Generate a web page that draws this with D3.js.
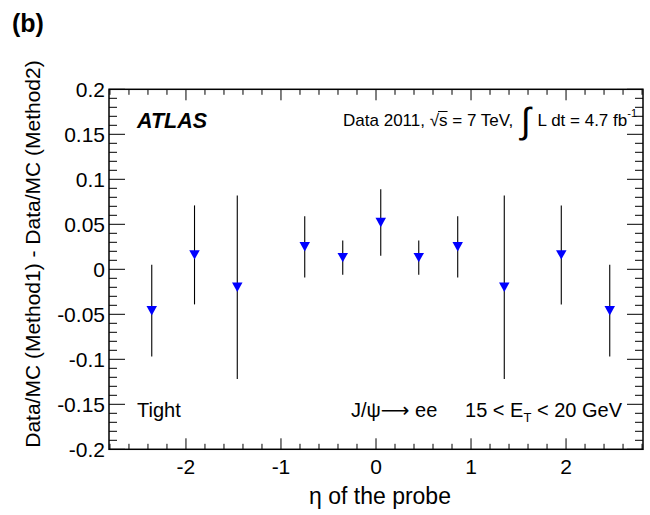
<!DOCTYPE html>
<html>
<head>
<meta charset="utf-8">
<script src="https://cdn.jsdelivr.net/npm/d3@7"></script>
<style>
  body { margin: 0; background: #fff; }
  text { font-family: "Liberation Sans", Arial, Helvetica, sans-serif; fill: #000; white-space: pre; }
</style>
</head>
<body>
<div id="graf"></div>
<script>
// valores
const eta = [-2.36, -1.91, -1.46, -0.75, -0.35, 0.05, 0.45, 0.86, 1.35, 1.95, 2.46]
const diferencia = [-0.046, 0.016, -0.020, 0.025, 0.013, 0.052, 0.013, 0.025, -0.020, 0.016, -0.046]
const error = [0.051, 0.055, 0.102, 0.034, 0.019, 0.037, 0.019, 0.034, 0.102, 0.055, 0.051]
const xTicks = [-2, -1, 0, 1, 2]
const yTicks = [-0.2, -0.15, -0.1, -0.05, 0, 0.05, 0.1, 0.15, 0.2]

const anchoTotal = 650
const altoTotal = 515
const margins = { top: 89.3, right: 7, bottom: 65.7, left: 109 }

const svg = d3.select("#graf").append("svg")
    .attr("width", anchoTotal).attr("height", altoTotal)

const x = d3.scaleLinear().domain([-2.81, 2.81]).range([margins.left, anchoTotal - margins.right])
const y = d3.scaleLinear().domain([-0.2, 0.2]).range([altoTotal - margins.bottom, margins.top])

const x0 = x.range()[0], x1 = x.range()[1]
const y0 = y.range()[0], y1 = y.range()[1]

// ticks hacia adentro, estilo ROOT
const xMenores = d3.range(-2.8, 2.81, 0.2).map(d => +d.toFixed(1)).filter(d => !xTicks.includes(d))
const yMenores = d3.range(-0.2, 0.2001, 0.01).map(d => +d.toFixed(2)).filter(d => !yTicks.includes(d))

const ticks = svg.append("g").attr("stroke", "#000").attr("stroke-width", 1)
const tickX = (lista, largo) => {
    lista.forEach(d => {
        ticks.append("line").attr("x1", x(d)).attr("x2", x(d)).attr("y1", y0).attr("y2", y0 - largo)
        ticks.append("line").attr("x1", x(d)).attr("x2", x(d)).attr("y1", y1).attr("y2", y1 + largo)
    })
}
const tickY = (lista, largo) => {
    lista.forEach(d => {
        ticks.append("line").attr("y1", y(d)).attr("y2", y(d)).attr("x1", x0).attr("x2", x0 + largo)
        ticks.append("line").attr("y1", y(d)).attr("y2", y(d)).attr("x1", x1).attr("x2", x1 - largo)
    })
}
tickX(xTicks, 11)
tickX(xMenores, 5.5)
tickY(yTicks, 16)
tickY(yMenores, 8)

svg.append("rect")
    .attr("x", x0).attr("y", y1).attr("width", x1 - x0).attr("height", y0 - y1)
    .attr("fill", "none").attr("stroke", "#000").attr("stroke-width", 1.5)

// etiquetas de ejes
svg.append("g").selectAll("text").data(xTicks).join("text")
    .attr("x", d => x(d)).attr("y", y0 + 25)
    .attr("text-anchor", "middle").attr("font-size", 21)
    .text(d => d)

svg.append("g").selectAll("text").data(yTicks).join("text")
    .attr("x", x0 - 4).attr("y", d => y(d) + 7.5)
    .attr("text-anchor", "end").attr("font-size", 21)
    .text(d => d)

svg.append("text")
    .attr("x", (x0 + x1) / 2 + 4).attr("y", 504)
    .attr("text-anchor", "middle").attr("font-size", 23)
    .text("η of the probe")

svg.append("text")
    .attr("transform", `translate(40, 254) rotate(-90)`)
    .attr("text-anchor", "middle").attr("font-size", 21)
    .text("Data/MC (Method1) - Data/MC (Method2)")

svg.append("text").attr("x", 12).attr("y", 32)
    .attr("font-size", 25).attr("font-weight", "bold").text("(b)")

svg.append("text").attr("x", 137).attr("y", 128)
    .attr("font-size", 21.5).attr("font-weight", "bold").attr("font-style", "italic").text("ATLAS")

// texto de la luminosidad, armado por partes y alineado a la derecha
const lumi = svg.append("g").attr("font-size", 17)
let cx = 0
const trozo = (t, dx, dy, size) => {
    const el = lumi.append("text").attr("x", cx + (dx || 0)).attr("y", 126 + (dy || 0)).text(t)
    if (size) el.attr("font-size", size)
    const w = el.node().getComputedTextLength()
    cx += w + (dx || 0)
    return { el, w }
}
trozo("Data 2011, ")
trozo("√")
const sx = cx
const s = trozo("s")
lumi.append("line").attr("x1", sx - 1).attr("x2", sx + s.w).attr("y1", 111.5).attr("y2", 111.5)
    .attr("stroke", "#000").attr("stroke-width", 1)
trozo(" = 7 TeV, ")
trozo("∫", 3, 7, 36)
trozo(" L dt = 4.7 fb", 2)
trozo("-1", 0, -9, 11)
lumi.attr("transform", `translate(${637 - cx}, 0)`)

svg.append("text").attr("x", 137).attr("y", 417).attr("font-size", 20).text("Tight")

const canal = svg.append("text").attr("x", 622).attr("y", 417)
    .attr("font-size", 20).attr("text-anchor", "end")
canal.append("tspan").text("J/ψ")
canal.append("tspan").attr("font-family", "DejaVu Sans").attr("font-size", 20).text("⟶")
canal.append("tspan").text(" ee     15 < E")
canal.append("tspan").attr("font-size", 13).attr("dy", 5).text("T")
canal.append("tspan").attr("dy", -5).text(" < 20 GeV")

// barras de error y marcadores
const puntos = eta.map((e, i) => ({ eta: e, v: diferencia[i], err: error[i] }))

svg.append("g").selectAll("line").data(puntos).join("line")
    .attr("x1", d => x(d.eta)).attr("x2", d => x(d.eta))
    .attr("y1", d => y(d.v + d.err)).attr("y2", d => y(d.v - d.err))
    .attr("stroke", "#000").attr("stroke-width", 1.1)

const trianguloAbajo = {
    draw(ctx, size) {
        const a = Math.sqrt(size)
        ctx.moveTo(-a / 2, -a * 0.45)
        ctx.lineTo(a / 2, -a * 0.45)
        ctx.lineTo(0, a * 0.45)
        ctx.closePath()
    }
}
svg.append("g").selectAll("path").data(puntos).join("path")
    .attr("d", d3.symbol(trianguloAbajo, 110))
    .attr("transform", d => `translate(${x(d.eta)}, ${y(d.v)})`)
    .attr("fill", "#0000ff")
</script>
</body>
</html>
